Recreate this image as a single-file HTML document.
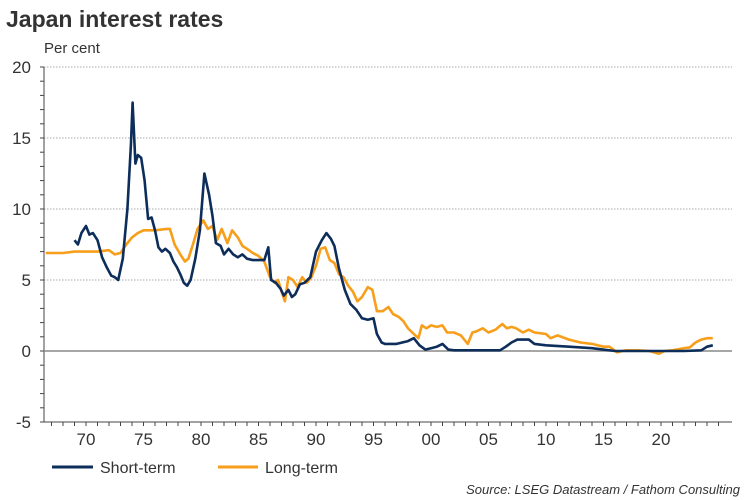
<!DOCTYPE html>
<html><head><meta charset="utf-8"><style>
body{margin:0;background:#fff;font-family:"Liberation Sans",Arial,sans-serif;}
#wrap{position:relative;width:750px;height:500px;overflow:hidden}
</style></head><body>
<div id="wrap">
<svg id="svg" width="750" height="500" xmlns="http://www.w3.org/2000/svg">
<text x="6" y="27" font-size="23" font-weight="bold" fill="#333">Japan interest rates</text>
<text x="44" y="53" font-size="15" fill="#333">Per cent</text>
<g id="grid"></g><g id="axes"></g><g id="series"></g>
<g>
<line x1="52" y1="467" x2="93" y2="467" stroke="#0d2d5a" stroke-width="3"/>
<text x="100" y="473" font-size="16" fill="#333">Short-term</text>
<line x1="218" y1="467" x2="258" y2="467" stroke="#f79e1b" stroke-width="3"/>
<text x="265" y="473" font-size="16" fill="#333">Long-term</text>
</g>
<text x="740" y="494" font-size="13" font-style="italic" fill="#333" text-anchor="end">Source: LSEG Datastream / Fathom Consulting</text>
</svg></div>
<script>
const yTicks=[20,15,10,5,0,-5];
const xTickYears=[1970,1975,1980,1985,1990,1995,2000,2005,2010,2015,2020];
const xTickLabels=["70","75","80","85","90","95","00","05","10","15","20"];
const shortYears=[1969,1969.3,1969.6,1970,1970.3,1970.6,1971,1971.4,1971.8,1972.2,1972.5,1972.8,1973.2,1973.6,1973.9,1974.05,1974.3,1974.5,1974.8,1975.1,1975.4,1975.7,1976,1976.3,1976.6,1976.9,1977.3,1977.6,1977.9,1978.2,1978.5,1978.8,1979.1,1979.5,1979.9,1980.3,1980.7,1981,1981.3,1981.7,1982,1982.4,1982.8,1983.2,1983.6,1984,1984.5,1985,1985.5,1985.85,1986.1,1986.5,1986.9,1987.2,1987.6,1987.9,1988.2,1988.6,1989,1989.5,1990,1990.5,1990.9,1991.3,1991.6,1992,1992.5,1993,1993.5,1994,1994.5,1995,1995.3,1995.7,1996,1997,1998,1998.5,1999,1999.5,2000,2000.5,2001,2001.5,2002,2006,2006.5,2007,2007.5,2008.5,2009,2010,2012,2014,2016,2020,2022,2023.5,2024,2024.5];
const shortVals=[7.8,7.5,8.3,8.8,8.2,8.3,7.8,6.6,5.9,5.3,5.2,5.0,6.5,10,14.5,17.5,13.2,13.8,13.6,12,9.3,9.4,8.5,7.3,7.0,7.2,6.9,6.3,5.9,5.4,4.8,4.6,5.0,6.5,8.5,12.5,11,9.5,7.6,7.4,6.8,7.2,6.8,6.6,6.8,6.5,6.4,6.4,6.4,7.3,5.0,4.8,4.4,3.9,4.3,3.8,4.0,4.7,4.8,5.2,7.0,7.8,8.3,7.9,7.4,5.8,4.3,3.3,2.9,2.3,2.2,2.3,1.2,0.6,0.5,0.5,0.7,0.9,0.4,0.1,0.2,0.3,0.5,0.1,0.05,0.05,0.3,0.6,0.8,0.8,0.5,0.4,0.3,0.2,0.0,0.0,0.0,0.05,0.3,0.4];
const longYears=[1966.5,1968,1969,1971,1972,1972.5,1973,1973.5,1974,1974.5,1975,1976,1977,1977.3,1977.7,1978.2,1978.6,1978.9,1979.3,1979.7,1980.2,1980.6,1981,1981.4,1981.8,1982.3,1982.7,1983.2,1983.6,1984,1984.5,1985,1985.5,1986,1986.4,1986.7,1987,1987.3,1987.6,1988,1988.4,1988.8,1989.2,1989.6,1990,1990.4,1990.8,1991.2,1991.6,1992,1992.4,1992.8,1993.2,1993.6,1994,1994.5,1994.9,1995.3,1995.8,1996.3,1996.7,1997.2,1997.6,1998,1998.5,1998.9,1999.2,1999.6,2000,2000.5,2001,2001.4,2002,2002.6,2003.2,2003.6,2004,2004.5,2005,2005.6,2006.2,2006.6,2007,2007.4,2008,2008.5,2009,2010,2010.4,2011,2012,2013,2014,2015,2015.5,2016.2,2016.6,2017,2018,2019,2019.8,2020.3,2021,2022,2022.5,2023,2023.5,2024,2024.5];
const longVals=[6.9,6.9,7.0,7.0,7.1,6.8,6.9,7.5,8.0,8.3,8.5,8.5,8.6,8.6,7.5,6.8,6.3,6.5,7.5,8.6,9.2,8.6,8.8,7.8,8.6,7.6,8.5,8.0,7.4,7.2,6.9,6.7,6.3,5.2,4.8,5.0,4.2,3.5,5.2,5.0,4.5,5.2,4.8,5.2,6.0,7.2,7.3,6.4,6.2,5.4,5.2,4.6,4.2,3.5,3.8,4.5,4.3,2.8,2.8,3.1,2.6,2.4,2.1,1.6,1.2,0.9,1.8,1.6,1.8,1.7,1.8,1.3,1.3,1.1,0.5,1.3,1.4,1.6,1.3,1.5,1.9,1.6,1.7,1.6,1.3,1.5,1.3,1.2,0.9,1.1,0.8,0.6,0.5,0.3,0.3,-0.1,0,0.05,0.05,0.0,-0.2,0.0,0.05,0.2,0.25,0.6,0.8,0.9,0.9];

const NS="http://www.w3.org/2000/svg";
const L=44,R=732,T=67,B=422;
function xs(y){return 86+(y-1970)*11.5;}
function ys(v){return T+(20-v)*(B-T)/25;}
function mk(tag,attrs,parent){const e=document.createElementNS(NS,tag);for(const k in attrs)e.setAttribute(k,attrs[k]);parent.appendChild(e);return e;}
const grid=document.getElementById('grid'),axes=document.getElementById('axes'),ser=document.getElementById('series');
yTicks.forEach(v=>{
  if(v!==-5&&v!==0){const g=mk('line',{x1:L,x2:R,y1:ys(v),y2:ys(v),stroke:'#aaa','stroke-dasharray':'1.5,1.5','stroke-width':1},grid);
  
  }
  const t=mk('text',{x:31,y:ys(v)+6,'font-size':17,fill:'#333','text-anchor':'end'},axes);t.textContent=v;
  
  
});
for(let v=-5;v<=20;v++){mk('line',{x1:L-4,x2:L,y1:ys(v),y2:ys(v),stroke:'#444','stroke-width':1},axes);}
const ya=mk('line',{x1:L,x2:L,y1:T,y2:B,stroke:'#444','stroke-width':1},axes);


const z=mk('line',{x1:L,x2:R,y1:ys(0),y2:ys(0),stroke:'#888','stroke-width':1.5},axes);


const xa=mk('line',{x1:L,x2:R,y1:B,y2:B,stroke:'#444','stroke-width':1},axes);


for(let y=1967;y<=2025;y++){mk('line',{x1:xs(y),x2:xs(y),y1:B,y2:B+4,stroke:'#444','stroke-width':1},axes);}
xTickYears.forEach((y,i)=>{const t=mk('text',{x:xs(y),y:445,'font-size':17,fill:'#333','text-anchor':'middle'},axes);t.textContent=xTickLabels[i];
  
  });
function line(xsArr,vals,color,name){
  const d=xsArr.map((y,i)=>(i?'L':'M')+xs(y).toFixed(1)+','+ys(vals[i]).toFixed(1)).join('');
  const p=mk('path',{d:d,fill:'none',stroke:color,'stroke-width':2.6,'stroke-linejoin':'round'},ser);
  
  
}
line(longYears,longVals,'#f79e1b','long-term-line');
line(shortYears,shortVals,'#0d2d5a','short-term-line');
</script>
</body></html>
